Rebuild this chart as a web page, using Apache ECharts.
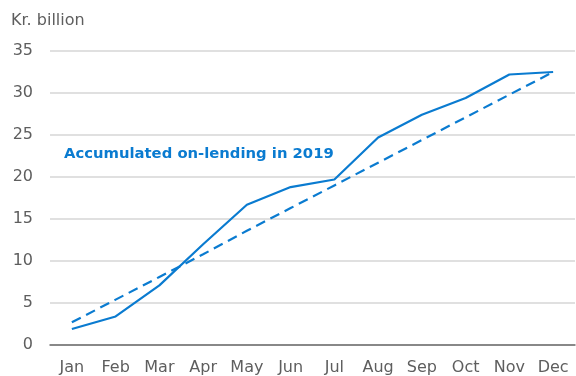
<!DOCTYPE html>
<html>
<head>
<meta charset="utf-8">
<script src="https://cdn.jsdelivr.net/npm/echarts@6/dist/echarts.min.js"></script>
<style>html,body{margin:0;padding:0;background:#fff}#chart{width:576px;height:376px}</style>
</head>
<body>
<div id="chart"></div>
<script>
// Monthly categories and accumulated on-lending (Kr. billion)
const months = ['Jan', 'Feb', 'Mar', 'Apr', 'May', 'Jun', 'Jul', 'Aug', 'Sep', 'Oct', 'Nov', 'Dec'];
const accumulated = [1.9, 3.4, 7.1, 12.0, 16.7, 18.8, 19.7, 24.7, 27.4, 29.4, 32.2, 32.5];
const evenPace = [2.7, 5.4, 8.1, 10.8, 13.6, 16.3, 19.0, 21.7, 24.4, 27.1, 29.8, 32.5];
const yTicks = [0, 5, 10, 15, 20, 25, 30, 35];

const blue = '#0a7bd0';
const textGrey = '#5e5e5e';
const font = 'DejaVu Sans';

const chart = echarts.init(document.getElementById('chart'));
chart.setOption({
  animation: false,
  textStyle: { fontFamily: font },
  grid: { left: 50, right: 1, top: 51, bottom: 29, containLabel: false },
  graphic: [
    { type: 'text', left: 11, top: 13, style: { text: 'Kr. billion', fill: textGrey, font: '16px "DejaVu Sans"' } },
    { type: 'text', left: 64, top: 147, style: { text: 'Accumulated on-lending in 2019', fill: blue, font: 'bold 14.8px "DejaVu Sans"' } }
  ],
  xAxis: {
    type: 'category',
    data: months,
    boundaryGap: true,
    axisLine: { lineStyle: { color: '#6b6b6b', width: 1.5 } },
    axisTick: { inside: true, length: 5, lineStyle: { color: '#6b6b6b' } },
    axisLabel: { color: textGrey, fontSize: 16, margin: 15, fontFamily: font }
  },
  yAxis: {
    type: 'value',
    min: yTicks[0],
    max: yTicks[yTicks.length - 1],
    interval: 5,
    axisLine: { show: false },
    axisTick: { show: false },
    splitLine: { lineStyle: { color: '#d6d6d6', width: 1.5 } },
    axisLabel: { color: textGrey, fontSize: 16, margin: 17, fontFamily: font }
  },
  series: [
    {
      type: 'line', data: accumulated, symbol: 'none',
      lineStyle: { color: blue, width: 2.2 }
    },
    {
      type: 'line', data: evenPace, symbol: 'none',
      lineStyle: { color: blue, width: 2.2, type: [10, 6] }
    }
  ]
});
</script>
</body>
</html>
